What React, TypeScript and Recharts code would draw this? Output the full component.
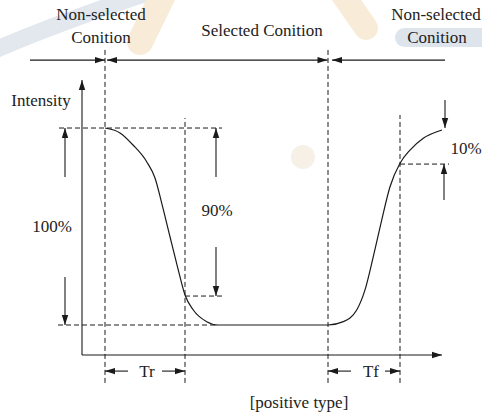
import React from 'react';
import { ComposedChart, Line, XAxis, YAxis, ReferenceLine, Scatter } from 'recharts';

// time (arbitrary units) and optical intensity (%), 0 = fully switched, 100 = idle
const curveT = [105, 120, 133, 146.7, 155, 161.7, 170, 178.3, 185, 193.3, 206.7, 218, 328, 343.3, 356.7, 365, 373.3, 381.7, 390, 400, 410, 423.3, 442];
const curveV = [100, 97.5, 91.4, 82.9, 74.6, 61.9, 44.8, 27.9, 15.2, 7.6, 1.7, 0, 0, 1.7, 7.6, 17.8, 34.7, 53.3, 70.2, 82.1, 88.8, 94.8, 99];

// vertical dashed guides: time, lower end, upper end
const guideT = [105, 185, 328, 400];
const guideLow = [-29.4, -29.4, -29.4, -29.4];
const guideHigh = [140.6, 105.1, 140.6, 106.6];

// horizontal dashed guides: level, start, end
const levelV = [100, 0, 14.7, 81.7];
const levelFrom = [59, 58, 185, 400];
const levelTo = [222, 216, 225, 449];

// single-headed arrows (tip at the second point)
const arrowT1 = [30, 445, 82, 82, 65, 65, 216, 216, 445, 444, 128, 162, 351, 385];
const arrowV1 = [134.5, 134.5, -15.2, -15.2, 75.1, 24.4, 75.1, 39.6, 114.2, 63.5, -23.4, -23.4, -23.4, -23.4];
const arrowT2 = [105, 332, 82, 442, 65, 65, 216, 216, 445, 444, 105, 185, 328, 400];
const arrowV2 = [134.5, 134.5, 124.4, -15.2, 100, 0, 100, 14.7, 100, 81.7, -23.4, -23.4, -23.4, -23.4];

// double-headed arrow (selected condition span)
const spanT = [107, 327.5];
const spanV = [134.5, 134.5];

// text labels
const labelTexts = ['Non-selected', 'Conition', 'Selected Conition', 'Non-selected', 'Conition', 'Intensity', '100%', '90%', '10%', 'Tr', 'Tf', '[positive type]'];
const labelT = [101, 101, 262, 436, 437, 41, 52, 217, 466, 147, 371, 299];
const labelV = [154.8, 143.1, 146.7, 154.8, 143.1, 111.2, 47.2, 55.3, 86.8, -26.4, -26.4, -42.1];

const curve = curveT.map((t, i) => ({ t, v: curveV[i] }));
const labels = labelTexts.map((text, i) => ({ t: labelT[i], v: labelV[i], text }));

const INK = '#1a1a1a';
const SERIF = '"Liberation Serif", "Times New Roman", Tinos, FreeSerif';

function headPoints(x1: number, y1: number, x2: number, y2: number) {
  const L = 10, Wd = 3.2;
  const dx = x2 - x1, dy = y2 - y1;
  const len = Math.hypot(dx, dy) || 1;
  const ux = dx / len, uy = dy / len;
  const bx = x2 - ux * L, by = y2 - uy * L;
  return `${x2},${y2} ${bx - uy * Wd},${by + ux * Wd} ${bx + uy * Wd},${by - ux * Wd}`;
}

const ArrowEnd = (p: any) => (
  <g>
    <line x1={p.x1} y1={p.y1} x2={p.x2} y2={p.y2} stroke={INK} strokeWidth={1.1} />
    <polygon points={headPoints(p.x1, p.y1, p.x2, p.y2)} fill={INK} />
  </g>
);

const ArrowBoth = (p: any) => (
  <g>
    <line x1={p.x1} y1={p.y1} x2={p.x2} y2={p.y2} stroke={INK} strokeWidth={1.1} />
    <polygon points={headPoints(p.x1, p.y1, p.x2, p.y2)} fill={INK} />
    <polygon points={headPoints(p.x2, p.y2, p.x1, p.y1)} fill={INK} />
  </g>
);

const LabelShape = (p: any) => (
  <text
    x={p.cx}
    y={p.cy}
    textAnchor="middle"
    fill="#222"
    fontFamily={SERIF}
    style={{ fontFamily: SERIF, fontSize: 17 }}
  >
    {p.payload.text}
  </text>
);

const Backdrop = () => (
  <svg width={482} height={416} style={{ position: 'absolute', left: 0, top: 0 }}>
    <path d="M -10 52 Q 60 22 150 -8" stroke="#e2e8ee" strokeWidth={17} fill="none" />
    <line x1={140} y1={42} x2={163} y2={-5} stroke="#f8ecd8" strokeWidth={26} strokeLinecap="round" />
    <line x1={343} y1={-5} x2={366} y2={28} stroke="#f8ecd8" strokeWidth={24} strokeLinecap="round" />
    <rect x={395} y={28} width={100} height={19} rx={9.5} fill="#dde4eb" />
    <circle cx={303} cy={157} r={12} fill="#f6f0e7" />
  </svg>
);

export default function App() {
  return (
    <div style={{ position: 'absolute', left: 0, top: 0, width: 482, height: 416, background: '#fff', fontFamily: SERIF }}>
      <Backdrop />
      <div style={{ position: 'absolute', left: 0, top: 0 }}>
        <ComposedChart width={482} height={416} margin={{ top: 0, right: 0, bottom: 0, left: 0 }}>
          <XAxis type="number" dataKey="t" domain={[0, 482]} allowDataOverflow hide />
          <YAxis type="number" dataKey="v" domain={[-46.2, 165]} allowDataOverflow hide />
          {guideT.map((t, i) => (
            <ReferenceLine
              key={`g${i}`}
              segment={[{ x: t, y: guideLow[i] }, { x: t, y: guideHigh[i] }]}
              stroke={INK}
              strokeWidth={1}
              strokeDasharray="5 3"
              ifOverflow="visible"
            />
          ))}
          {levelV.map((v, i) => (
            <ReferenceLine
              key={`l${i}`}
              segment={[{ x: levelFrom[i], y: v }, { x: levelTo[i], y: v }]}
              stroke={INK}
              strokeWidth={1}
              strokeDasharray="5 3"
              ifOverflow="visible"
            />
          ))}
          {arrowT1.map((t, i) => (
            <ReferenceLine
              key={`a${i}`}
              segment={[{ x: t, y: arrowV1[i] }, { x: arrowT2[i], y: arrowV2[i] }]}
              ifOverflow="visible"
              shape={ArrowEnd}
            />
          ))}
          <ReferenceLine
            segment={[{ x: spanT[0], y: spanV[0] }, { x: spanT[1], y: spanV[1] }]}
            ifOverflow="visible"
            shape={ArrowBoth}
          />
          <Line
            data={curve}
            dataKey="v"
            type="monotone"
            dot={false}
            stroke={INK}
            strokeWidth={1.2}
            isAnimationActive={false}
          />
          <Scatter data={labels} dataKey="v" shape={LabelShape} isAnimationActive={false} />
        </ComposedChart>
      </div>
    </div>
  );
}
